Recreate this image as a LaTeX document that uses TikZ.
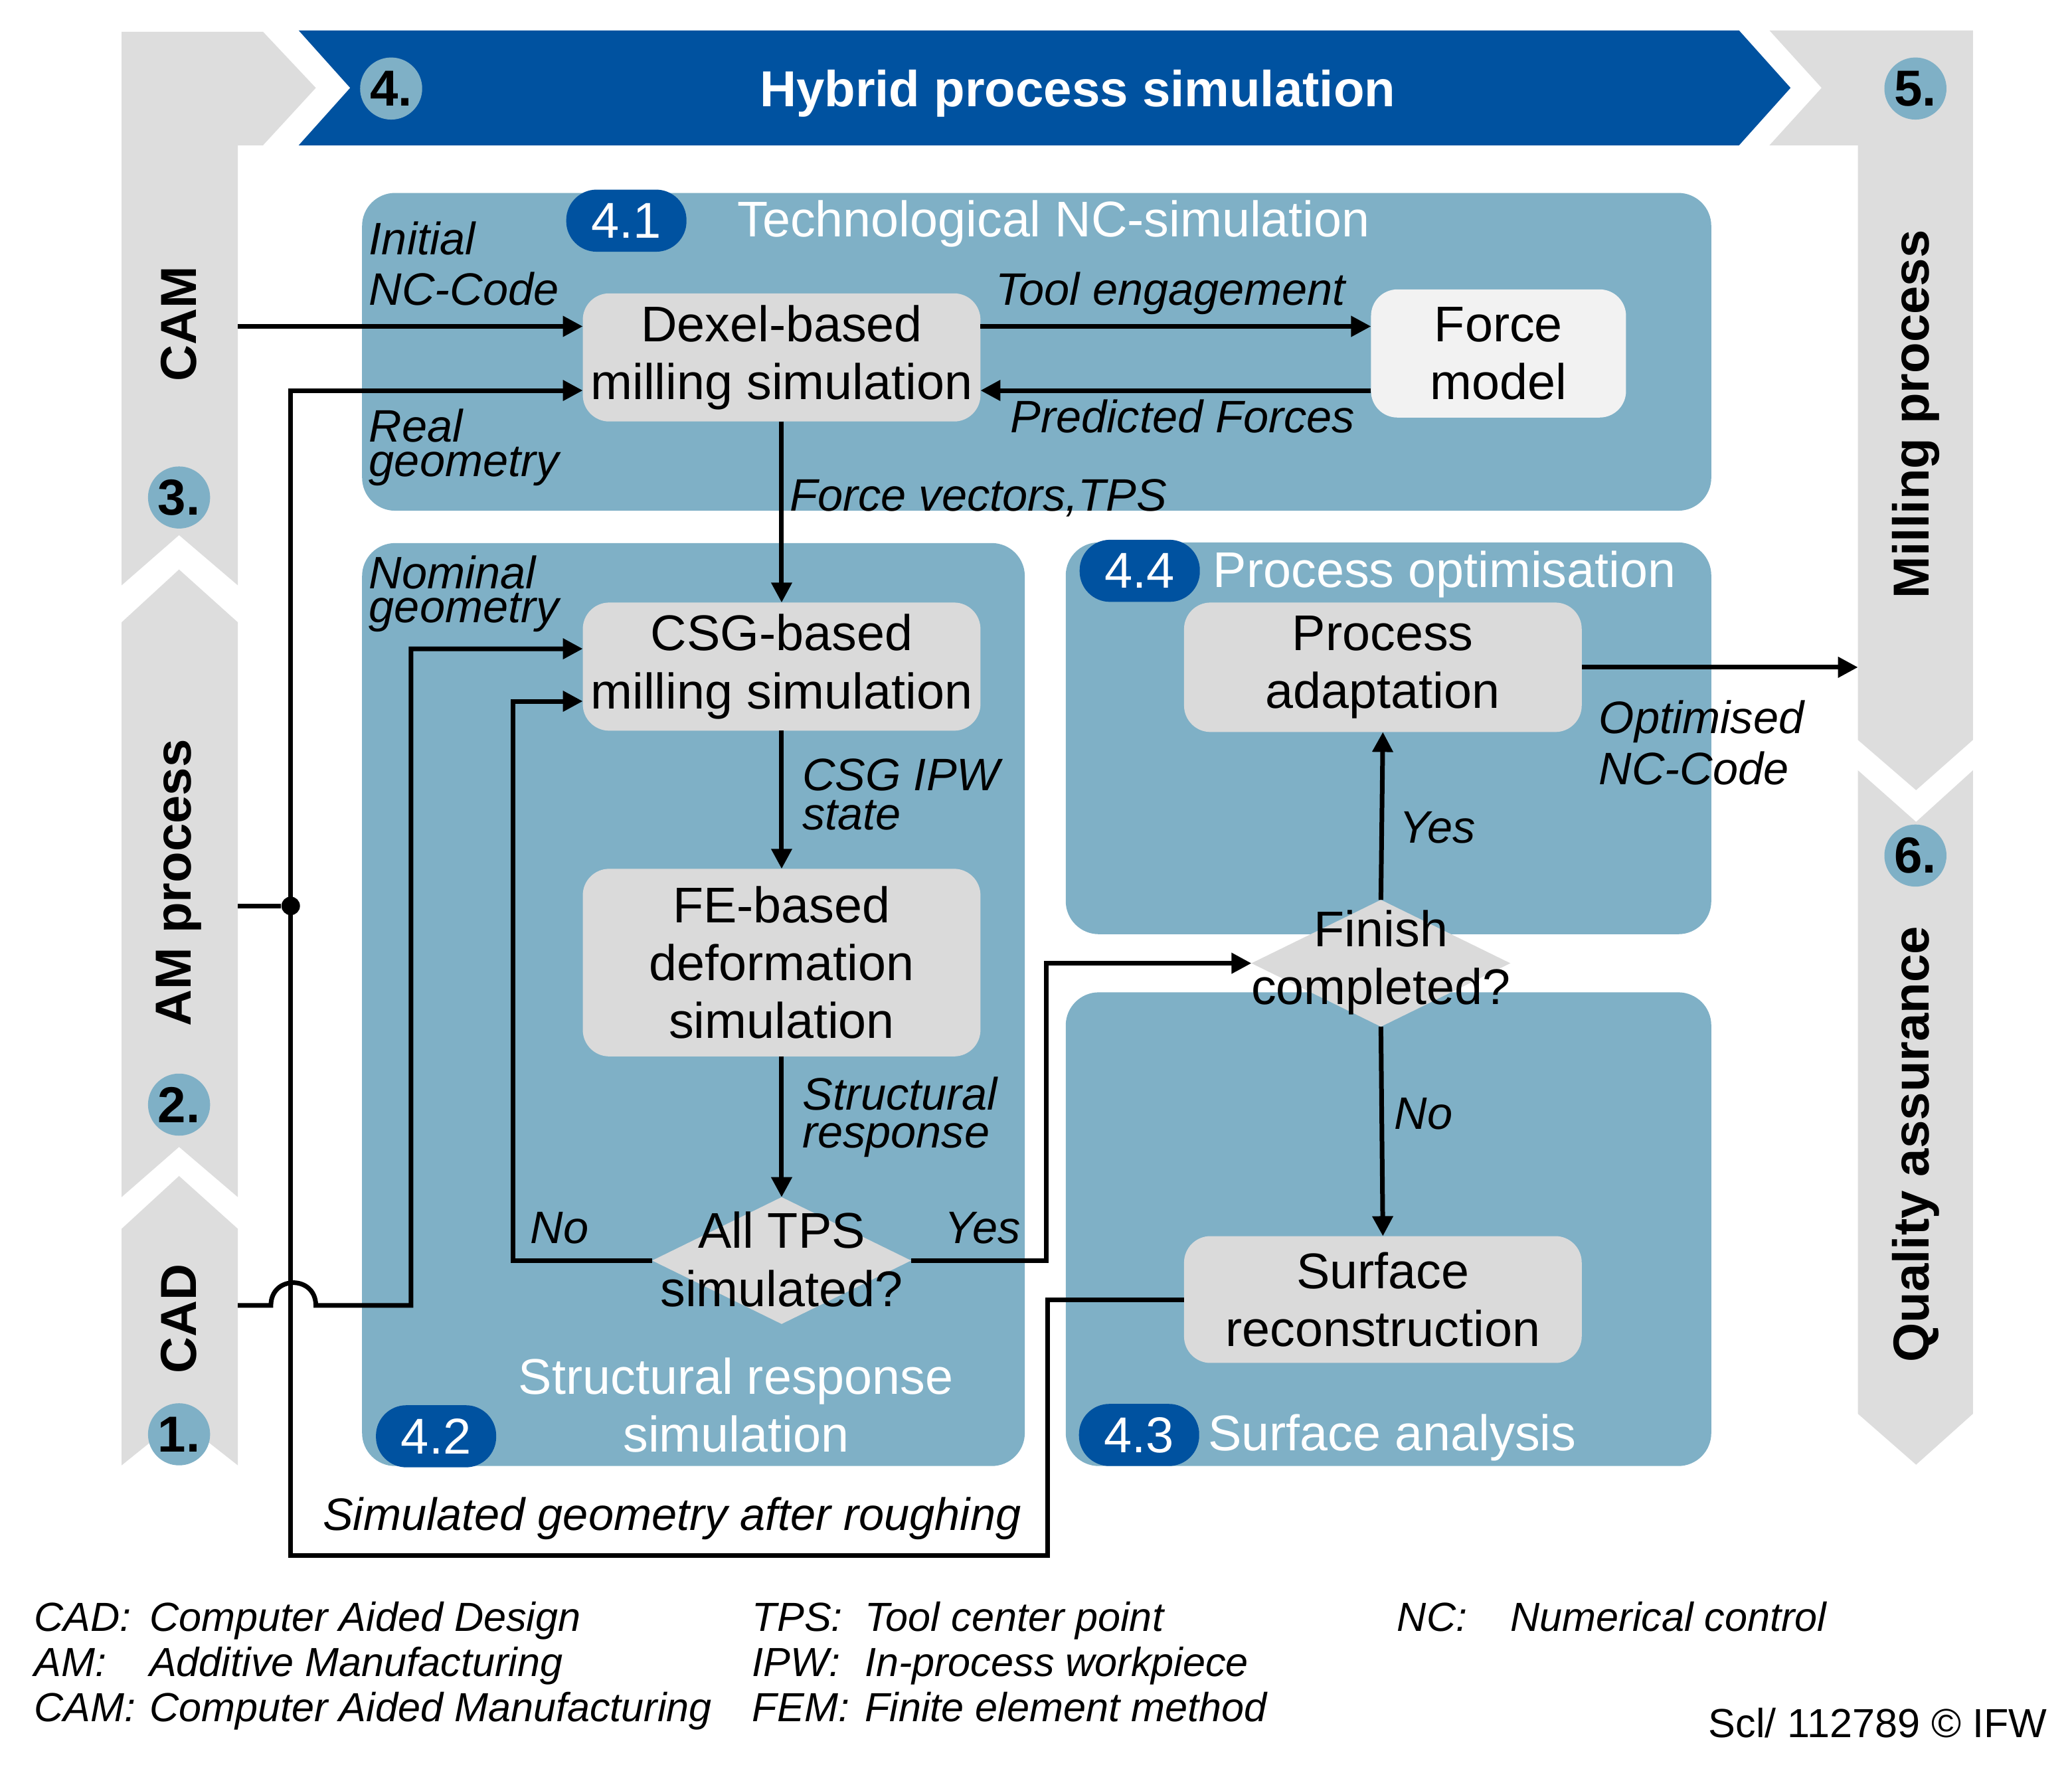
\documentclass[tikz,border=0pt]{standalone}
\usepackage{fontspec}
\setmainfont{Liberation Sans}
\usetikzlibrary{arrows.meta}
\usetikzlibrary{shapes.geometric}

\definecolor{ifwblue}{RGB}{0,82,160}
\definecolor{panelblue}{RGB}{127,176,198}
\definecolor{boxgray}{RGB}{218,218,218}
\definecolor{bandgray}{RGB}{221,221,221}
\definecolor{forcegray}{RGB}{242,242,242}

\begin{document}
\begin{tikzpicture}[x=0.02cm, y=-0.02cm]
\tikzset{box/.style = {shape=rectangle, rounded corners=0.4cm, fill=boxgray, align=center, inner sep=0pt, outer sep=0pt, font=\fontsize{21.6}{25}\selectfont}}
\tikzset{boxtext/.style = {align=center, inner sep=0pt, font=\fontsize{21.6}{25}\selectfont}}
\tikzset{decision/.style = {shape=diamond, fill=boxgray, inner sep=0pt, outer sep=0pt, minimum width=3.92cm, minimum height=1.92cm}}
\tikzset{badge/.style = {shape=rectangle, rounded corners=0.46cm, fill=ifwblue, text=white, minimum width=1.82cm, minimum height=0.94cm, inner sep=0pt, font=\fontsize{21.7}{25}\selectfont}}
\tikzset{num/.style = {shape=circle, fill=panelblue, minimum size=0.94cm, inner sep=0pt, font=\fontsize{21.8}{25}\bfseries\selectfont}}
\tikzset{phase/.style = {rotate=90, inner sep=0pt, font=\fontsize{21.8}{25}\bfseries\selectfont}}
\tikzset{ptitle/.style = {anchor=base west, inner sep=0pt, text=white, font=\fontsize{21.6}{25}\selectfont}}
\tikzset{lbl/.style = {anchor=base west, inner sep=0pt, align=left, font=\fontsize{19.6}{#1}\itshape\selectfont}, lbl/.default=22}
\tikzset{leg/.style = {anchor=base west, inner sep=0pt, align=left, font=\fontsize{17.5}{19.5}\itshape\selectfont}}
\tikzset{flow/.style = {line width=2pt, -{Triangle[length=8.6pt, width=8.6pt]}}}
\tikzset{wire/.style = {line width=2pt}}
\tikzset{dot/.style = {shape=circle, fill=black, minimum size=0.28cm, inner sep=0pt}}

\fill[white] (0,0) rectangle (1568,1340);
\useasboundingbox (0,0) rectangle (1568,1340);

% stage bands
\fill[bandgray] (92,24) -- (199,24) -- (239,66.5) -- (199,110) -- (180,110) -- (180,443) -- (135.5,405) -- (92,443) -- cycle;
\fill[bandgray] (92,471) -- (135.5,431) -- (180,471) -- (180,906) -- (135.5,868) -- (92,906) -- cycle;
\fill[bandgray] (92,930) -- (135.5,890) -- (180,930) -- (180,1109) -- (135.5,1074) -- (92,1109) -- cycle;
\fill[bandgray] (1339,23) -- (1493,23) -- (1493,560) -- (1450,598) -- (1406,560) -- (1406,110) -- (1339,110) -- (1378.5,66.5) -- cycle;
\fill[bandgray] (1406,583) -- (1450,622) -- (1493,583) -- (1493,1070) -- (1450,1108.5) -- (1406,1070) -- cycle;
\fill[ifwblue] (226,23) -- (1316,23) -- (1355,66.5) -- (1316,110) -- (226,110) -- (265,66.5) -- cycle;

\node[anchor=base, inner sep=0pt, text=white, font=\fontsize{21.8}{25}\bfseries\selectfont] (title) at (815.5,80.7) {Hybrid process simulation};
\node[phase] (cam) at (135.5,245) {CAM};
\node[phase] (am) at (135.5,668) {AM process};
\node[phase] (cad) at (135.5,998) {CAD};
\node[phase] (mill) at (1450,313.5) {Milling process};
\node[phase] (qa) at (1450,866) {Quality assurance};
\node[num] (n1) at (135.5,1085.5) {1.};
\node[num] (n2) at (135.5,836) {2.};
\node[num] (n3) at (135.5,376.5) {3.};
\node[num] (n4) at (296,67) {4.};
\node[num] (n5) at (1449.5,67) {5.};
\node[num] (n6) at (1449.5,647.5) {6.};

% panels
\fill[panelblue, rounded corners=0.5cm] (274,146) rectangle (1295,386.5);
\fill[panelblue, rounded corners=0.5cm] (274,411) rectangle (775.5,1109.5);
\fill[panelblue, rounded corners=0.5cm] (806.5,410.5) rectangle (1295,707);
\fill[panelblue, rounded corners=0.5cm] (806.5,751) rectangle (1295,1109.5);
\node[badge] (b41) at (474,167) {4.1};
\node[badge] (b42) at (330,1087) {4.2};
\node[badge] (b43) at (862,1086) {4.3};
\node[badge] (b44) at (862.5,432) {4.4};
\node[ptitle] (t41) at (557.6,179) {Technological NC-simulation};
\node[ptitle] (t44) at (917.7,444.6) {Process optimisation};
\node[ptitle] (t43) at (914,1098) {Surface analysis};
\node[ptitle, anchor=base, align=center] (t42) at (557,1099) {Structural response\\simulation};

% blocks
\node[box, minimum width=6.02cm, minimum height=1.94cm] (dexel) at (591.5,270.5) {Dexel-based\\milling simulation};
\node[box, fill=forcegray, minimum width=3.86cm, minimum height=1.94cm] (force) at (1134,267.5) {Force\\model};
\node[box, minimum width=6.02cm, minimum height=1.94cm] (csg) at (591.5,504.5) {CSG-based\\milling simulation};
\node[box, minimum width=6.02cm, minimum height=2.84cm] (fe) at (591.5,728.5) {FE-based\\deformation\\simulation};
\node[decision] (tps) at (591.5,954) {};
\node[boxtext] (tpstext) at (591.5,953) {All TPS\\simulated?};
\node[box, minimum width=6.02cm, minimum height=1.96cm] (pa) at (1046.5,505) {Process\\adaptation};
\node[decision] (fin) at (1045,729) {};
\node[boxtext] (fintext) at (1045,728.5) {Finish\\completed?};
\node[box, minimum width=6.02cm, minimum height=1.92cm] (surf) at (1046.5,983.5) {Surface\\reconstruction};

\coordinate (camout) at (180,247);
\coordinate (realbend) at (220,295.5);
\coordinate (amout) at (180,685.6);
\coordinate (cadout) at (180,988);
\coordinate (csgbend) at (311,491);
\coordinate (nobend) at (388,530.7);
\coordinate (yesbend) at (792,729);
\coordinate (rough) at (793,1177);
\coordinate (millin) at (1406,505);
\node[dot] (amdot) at (220,685.6) {};

% connectors
\draw[flow] (camout) -- (dexel.west |- camout);
\draw[flow] (dexel.east |- camout) -- (force.west |- camout);
\draw[flow] (force.west |- realbend) -- (dexel.east |- realbend);
\draw[flow] (surf.west) -| (rough) -| (realbend) -- (dexel.west |- realbend);
\draw[wire] (amout) -- (amdot);
\draw[flow] (cadout) -- (205,988) .. controls (205,965) and (239,965) .. (239,988) -| (csgbend) -- (csg.west |- csgbend);
\draw[flow] (tps.west) -| (nobend) -- (csg.west |- nobend);
\draw[flow] (dexel.south) -- (csg.north);
\draw[flow] (csg.south) -- (fe.north);
\draw[flow] (fe.south) -- (tps.north);
\draw[flow] (tps.east) -| (yesbend) -- (fin.west);
\draw[flow] (fin.north) -- (pa.south);
\draw[flow] (fin.south) -- (surf.north);
\draw[flow] (pa.east) -- (pa.east -| millin);

% labels (multi-line: base of last line)
\node[lbl=21.6] (lInit) at (279,230.7) {Initial\\NC-Code};
\node[lbl=14.8] (lReal) at (279,360.6) {Real\\geometry};
\node[lbl=14.5] (lNom) at (279,471) {Nominal\\geometry};
\node[lbl] (lTool) at (753,230.7) {Tool engagement};
\node[lbl] (lPred) at (764.5,327.4) {Predicted Forces};
\node[lbl] (lFv) at (597.5,386.5) {Force vectors,TPS};
\node[lbl=17] (lCsg) at (607,628) {CSG IPW\\state};
\node[lbl=16.2] (lStruct) at (607,868.5) {Structural\\response};
\node[lbl] (lNo1) at (401,941) {No};
\node[lbl] (lYes1) at (714.7,941) {Yes};
\node[lbl] (lYes2) at (1059,638) {Yes};
\node[lbl] (lNo2) at (1055,854.6) {No};
\node[lbl=22] (lOpt) at (1209.7,593.6) {Optimised\\NC-Code};
\node[lbl] (lSim) at (244,1158) {Simulated geometry after roughing};

% legend
\node[leg] (legA) at (25.6,1303) {CAD:\\AM:\\CAM:};
\node[leg] (legB) at (112.8,1303) {Computer Aided Design\\Additive Manufacturing\\Computer Aided Manufacturing};
\node[leg] (legC) at (569,1303) {TPS:\\IPW:\\FEM:};
\node[leg] (legD) at (654,1303) {Tool center point\\In-process workpiece\\Finite element method};
\node[leg] (legE) at (1057,1234.6) {NC:};
\node[leg] (legF) at (1142.7,1234.6) {Numerical control};
\node[anchor=base east, inner sep=0pt, font=\fontsize{17.5}{19.5}\selectfont] (copy) at (1549.5,1315) {Scl/ 112789 © IFW};
\end{tikzpicture}
\end{document}
